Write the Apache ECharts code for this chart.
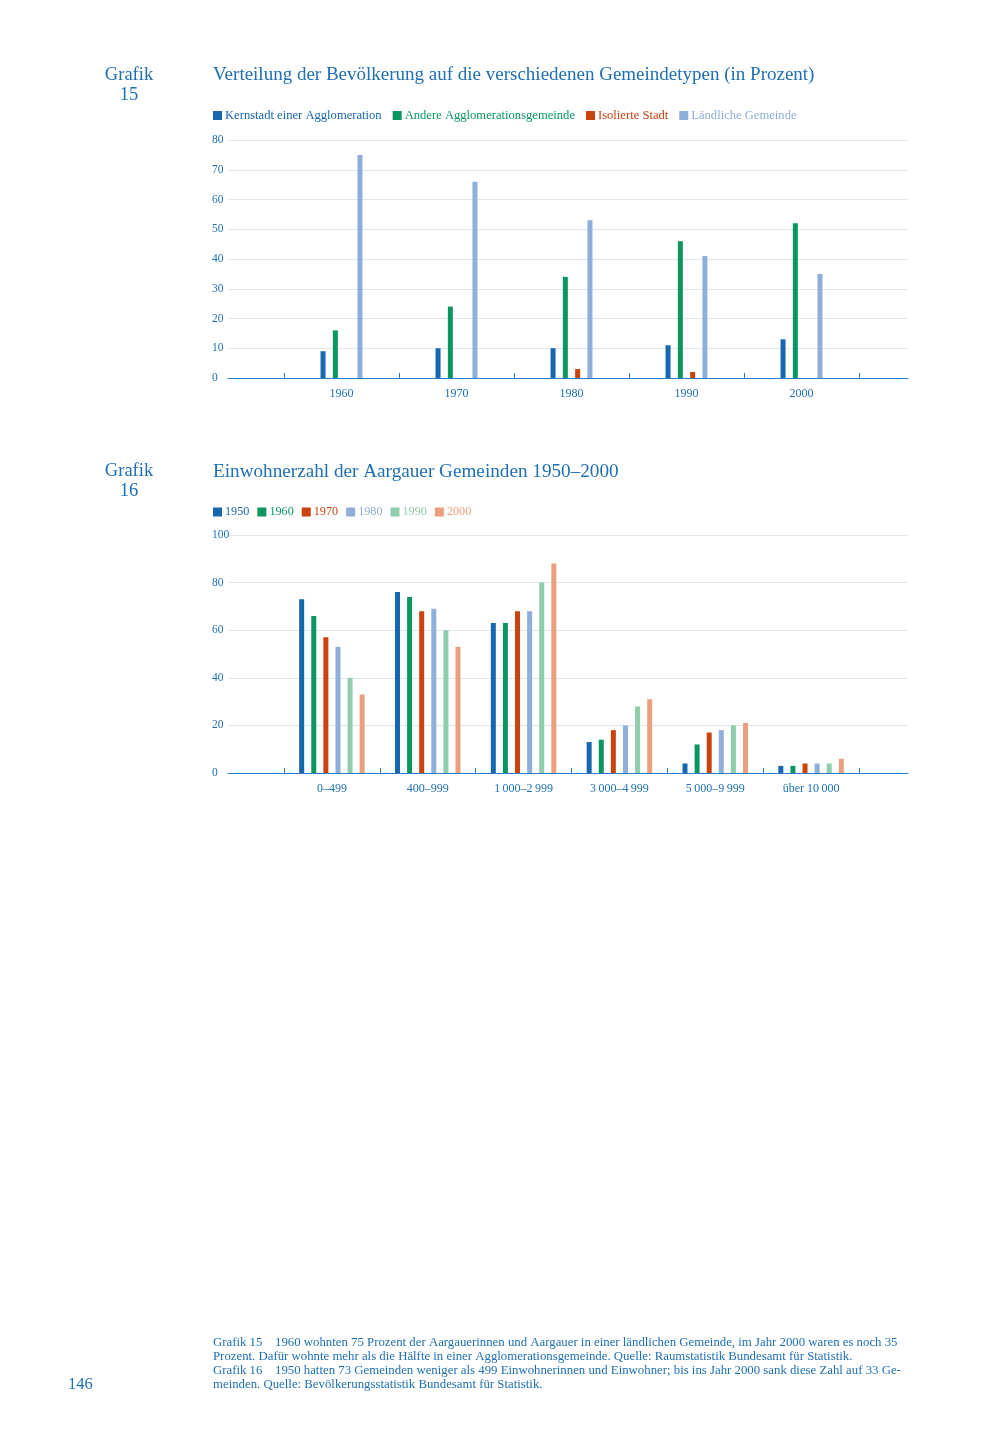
<!DOCTYPE html>
<html>
<head>
<meta charset="utf-8">
<script src="https://cdn.jsdelivr.net/npm/echarts@6/dist/echarts.min.js"></script>
<style>
  html, body { margin: 0; padding: 0; background: #fff; }
  #container { width: 1000px; height: 1454px; }
</style>
</head>
<body>
<div id="container"></div>
<script>
// Grafik 15 - Gemeindetypen
var years15 = ['1960', '1970', '1980', '1990', '2000'];
var kernstadt = [9, 10, 10, 11, 13];
var andereAgglo = [16, 24, 34, 46, 52];
var isolierteStadt = [null, null, 3, 2, null];
var laendlich = [75, 66, 53, 41, 35];
var ticks15 = [0, 80, 10]; // min, max, interval

// Grafik 16 - Einwohnerzahl
var klassen16 = ['0\u2013499', '400\u2013999', '1\u2009000\u20132\u2009999', '3\u2009000\u20134\u2009999', '5\u2009000\u20139\u2009999', '\u00fcber 10\u2009000'];
var y1950 = [73, 76, 63, 13, 4, 3];
var y1960 = [66, 74, 63, 14, 12, 3];
var y1970 = [57, 68, 68, 18, 17, 4];
var y1980 = [53, 69, 68, 20, 18, 4];
var y1990 = [40, 60, 80, 28, 20, 4];
var y2000 = [33, 53, 88, 31, 21, 6];
var ticks16 = [0, 100, 20];

var FONT = '"Liberation Serif", "DejaVu Serif", serif';
var TXT = '#1f6fb2';
var farben15 = ['#1766b0', '#0b9660', '#c9430f', '#8eaedb'];
var farben16 = ['#1766b0', '#0b9660', '#c9430f', '#8eaedb', '#8fcdab', '#eaa07e'];

var myChart = echarts.init(document.getElementById('container'));

function bg(yTicks, idx) {
	// breite Achse mit Gitterlinien
	return {
		y: {
			gridIndex: idx, type: 'value', min: yTicks[0], max: yTicks[1], interval: yTicks[2],
			axisLine: {show: false}, axisTick: {show: false},
			axisLabel: {color: TXT, fontFamily: FONT, fontSize: 11.5, align: 'left', margin: 16},
			splitLine: {lineStyle: {color: '#dfe7ef', width: 1}}
		},
		x: {
			gridIndex: idx, type: 'value', min: 0, max: 1,
			axisLine: {lineStyle: {color: '#2f7cc0', width: 1}},
			axisTick: {show: false}, axisLabel: {show: false}, splitLine: {show: false}
		}
	};
}
function fg(cats, yTicks, idx) {
	return {
		y: {gridIndex: idx, type: 'value', min: yTicks[0], max: yTicks[1], interval: yTicks[2], show: false},
		x: {
			gridIndex: idx, type: 'category', data: cats,
			axisLine: {show: false},
			axisTick: {show: true, inside: true, length: 5, lineStyle: {color: '#2f7cc0'}},
			axisLabel: {color: TXT, fontFamily: FONT, fontSize: 12, margin: 10},
			splitLine: {show: false}
		}
	};
}
var a = bg(ticks15, 0), b = fg(years15, ticks15, 1), c = bg(ticks16, 2), d = fg(klassen16, ticks16, 3);

function bar(name, data, color, xi, gap) {
	return {
		name: name, type: 'bar', xAxisIndex: xi, yAxisIndex: xi, data: data,
		barWidth: 5, barGap: gap, itemStyle: {color: color}, silent: true
	};
}

var namen15 = ['Kernstadt einer Agglomeration', 'Andere Agglomerationsgemeinde', 'Isolierte Stadt', 'L\u00e4ndliche Gemeinde'];
var namen16 = ['1950', '1960', '1970', '1980', '1990', '2000'];

var option = {
	backgroundColor: '#fff',
	animation: false,
	textStyle: {fontFamily: FONT},
	title: [
		{text: 'Grafik\n15', left: 129, top: 65, padding: 0, textAlign: 'center',
			textStyle: {color: TXT, fontFamily: FONT, fontSize: 18.5, fontWeight: 'normal', lineHeight: 20}},
		{text: 'Verteilung der Bev\u00f6lkerung auf die verschiedenen Gemeindetypen (in Prozent)', left: 213, top: 66, padding: 0,
			textStyle: {color: TXT, fontFamily: FONT, fontSize: 19, fontWeight: 'normal'}},
		{text: 'Grafik\n16', left: 129, top: 461, padding: 0, textAlign: 'center',
			textStyle: {color: TXT, fontFamily: FONT, fontSize: 18.5, fontWeight: 'normal', lineHeight: 20}},
		{text: 'Einwohnerzahl der Aargauer Gemeinden 1950\u20132000', left: 213, top: 462, padding: 0,
			textStyle: {color: TXT, fontFamily: FONT, fontSize: 19.2, fontWeight: 'normal'}},
		{text: '146', left: 68, top: 1376, padding: 0,
			textStyle: {color: TXT, fontFamily: FONT, fontSize: 16.5, fontWeight: 'normal'}},
		{
			text: '{l|Grafik 15}1960 wohnten 75 Prozent der Aargauerinnen und Aargauer in einer l\u00e4ndlichen Gemeinde, im Jahr 2000 waren es noch 35\n' +
				'Prozent. Daf\u00fcr wohnte mehr als die H\u00e4lfte in einer Agglomerationsgemeinde. Quelle: Raumstatistik Bundesamt f\u00fcr Statistik.\n' +
				'{l|Grafik 16}1950 hatten 73 Gemeinden weniger als 499 Einwohnerinnen und Einwohner; bis ins Jahr 2000 sank diese Zahl auf 33 Ge-\n' +
				'meinden. Quelle: Bev\u00f6lkerungsstatistik Bundesamt f\u00fcr Statistik.',
			left: 213, top: 1336, padding: 0,
			textStyle: {color: TXT, fontFamily: FONT, fontSize: 12.8, fontWeight: 'normal', lineHeight: 14,
				rich: {l: {width: 62, color: TXT, fontFamily: FONT, fontSize: 12.8, lineHeight: 14}}}
		}
	],
	legend: [
		{
			left: 208, top: 104, icon: 'rect', itemWidth: 9, itemHeight: 9, itemGap: 11,
			data: namen15.map(function (n, i) { return {name: n, textStyle: {color: farben15[i]}}; }),
			textStyle: {fontFamily: FONT, fontSize: 12.6, padding: [0, 0, 0, -2]}
		},
		{
			left: 208, top: 501, icon: 'rect', itemWidth: 9, itemHeight: 9, itemGap: 8,
			data: namen16.map(function (n, i) { return {name: n, textStyle: {color: farben16[i]}}; }),
			textStyle: {fontFamily: FONT, fontSize: 12.2, padding: [0, 0, 0, -2]}
		}
	],
	grid: [
		{left: 228, right: 92, top: 140, height: 238},
		{left: 284, right: 141, top: 140, height: 238},
		{left: 228, right: 92, top: 535, height: 238},
		{left: 284, right: 141, top: 535, height: 238}
	],
	xAxis: [a.x, b.x, c.x, d.x],
	yAxis: [a.y, b.y, c.y, d.y],
	series: [
		bar(namen15[0], kernstadt, farben15[0], 1, '146%'),
		bar(namen15[1], andereAgglo, farben15[1], 1, '146%'),
		bar(namen15[2], isolierteStadt, farben15[2], 1, '146%'),
		bar(namen15[3], laendlich, farben15[3], 1, '146%'),
		bar(namen16[0], y1950, farben16[0], 3, '142%'),
		bar(namen16[1], y1960, farben16[1], 3, '142%'),
		bar(namen16[2], y1970, farben16[2], 3, '142%'),
		bar(namen16[3], y1980, farben16[3], 3, '142%'),
		bar(namen16[4], y1990, farben16[4], 3, '142%'),
		bar(namen16[5], y2000, farben16[5], 3, '142%')
	]
};
myChart.setOption(option, true);
</script>
</body>
</html>
